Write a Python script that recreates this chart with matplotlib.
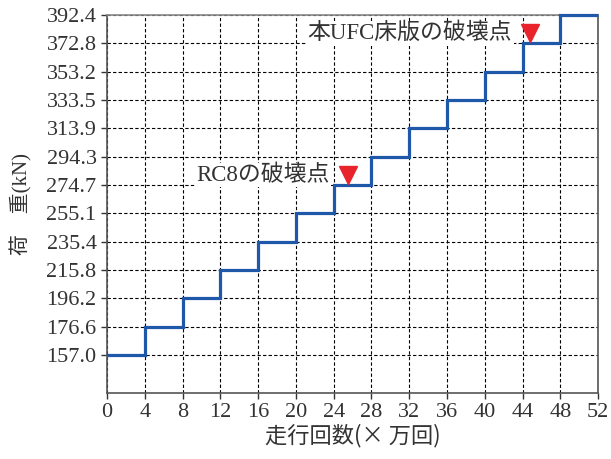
import matplotlib
matplotlib.use("Agg")
import matplotlib.pyplot as plt
import numpy as np

plt.rcParams['font.family'] = ['Liberation Serif', 'Noto Sans CJK JP']

# 走行回数 (×万回) の区切り と 各段階の荷重 (kN)
cycle_edges = [0, 4, 8, 12, 16, 20, 24, 28, 32, 36, 40, 44, 48, 52]
loads = [157.0, 176.6, 196.2, 215.8, 235.4, 255.1, 274.7,
         294.3, 313.9, 333.5, 353.2, 372.8, 392.4]

# 破壊点
fail_x = [25.5, 44.8]
fail_y = [281.3, 379.7]
fail_labels = ['RC8の破壊点', '本UFC床版の破壊点']

fig = plt.figure(figsize=(6.11, 4.59), dpi=100)
ax = fig.add_axes([0.175, 0.144, 0.804, 0.823])

ax.stairs(loads, cycle_edges, baseline=None, color='#1f58a8', lw=2.3,
          zorder=3, clip_on=False)
ax.plot(fail_x, fail_y, 'v', color='#e8232b', ms=13, zorder=4,
        clip_on=False)

for fx, fy, lab in zip(fail_x, fail_y, fail_labels):
    ax.text(fx - 1.9, fy, lab, ha='right', va='center', fontsize=16.5,
            color='#333333', zorder=5,
            bbox=dict(facecolor='white', edgecolor='none', pad=1))

ax.set_xlim(0, 52)
ax.set_ylim(130.6, 392.4)
ax.set_xticks(cycle_edges)
ax.set_yticks(loads)
ax.set_yticklabels(['%.1f' % v for v in loads])
ax.tick_params(labelsize=16, colors='#333333', length=4, width=1)

ax.grid(True, color='black', ls=(0, (3, 2)), lw=0.8)
for s in ax.spines.values():
    s.set_color('#555555')
    s.set_linewidth(1.2)
ax.spines['top'].set_color('#888888')

ax.set_xlabel('走行回数(× 万回)', fontsize=16, color='#333333', labelpad=1,
              family=['Noto Sans CJK JP'])
ax.set_ylabel('荷　重(kN)', fontsize=15, color='#333333', labelpad=10)

fig.savefig('out.png', dpi=100)
